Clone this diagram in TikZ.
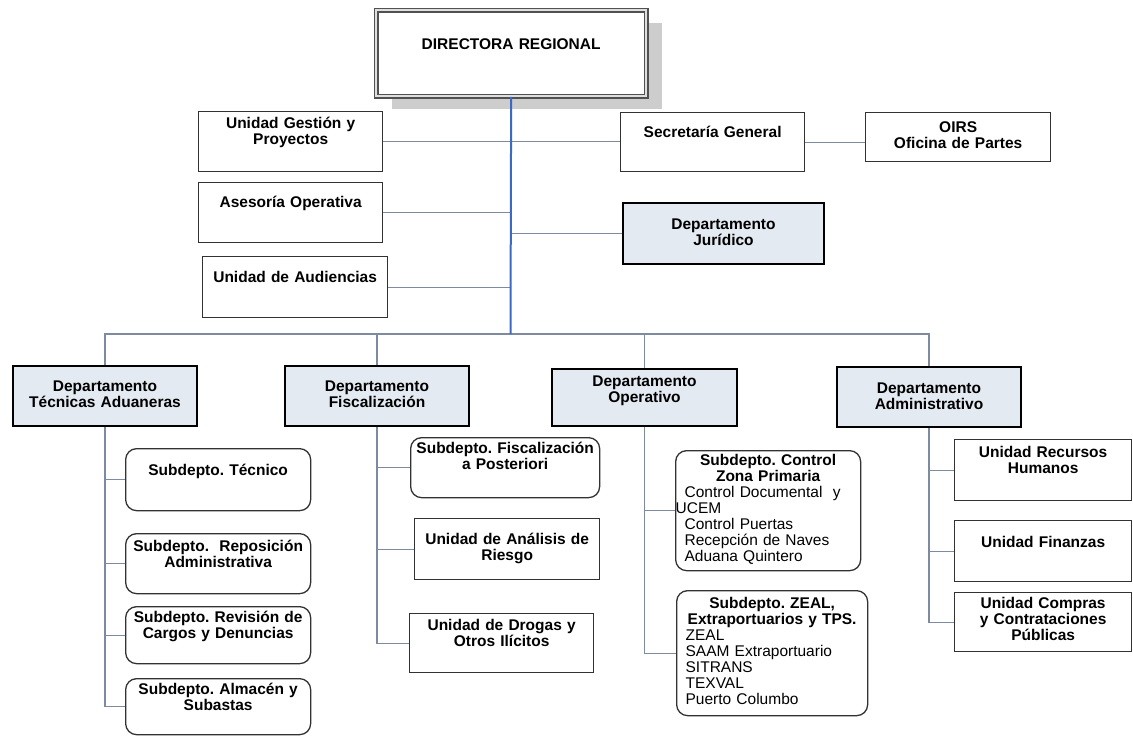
\documentclass[tikz,border=0pt]{standalone}
\usepackage{fontspec}
\setmainfont{Liberation Sans}
\usetikzlibrary{shadows}
\definecolor{boxc}{RGB}{50,50,50}
\definecolor{deptc}{RGB}{228,234,242}
\definecolor{connc}{RGB}{125,138,160}
\definecolor{bluec}{RGB}{62,105,195}
\definecolor{shadc}{RGB}{205,205,205}
\newcommand\fs{\fontsize{15.5}{16}\selectfont\bfseries\frenchspacing}
\newcommand\leftlist{\raggedright\parfillskip=0pt plus 1fil\relax\mdseries}
\newcommand\obox[8]{%
  \pgfmathsetmacro\bw{#5-#3}\pgfmathsetmacro\bth{#7-#4}\pgfmathsetmacro\btd{#6-#7}%
  \node[#1, text width=\bw pt, text height=\bth pt, text depth=\btd pt] (#2) at (#3,#4) {#8};}
\begin{document}
\begin{tikzpicture}[x=1pt,y=-1pt,
  bx/.style={draw=boxc, line width=1.3pt, fill=white, inner xsep=0pt, inner ysep=0pt,
    anchor=north west, align=center, font=\fs},
  dept/.style={bx, fill=deptc, draw=black, line width=2pt},
  rbx/.style={bx, rounded corners=11pt},
  dirbox/.style={bx, draw=boxc!85, double=gray!25, double distance=2.2pt, line width=1.3pt,
    general shadow={fill=shadc, shadow xshift=16pt, shadow yshift=-13pt}},
  conn/.style={draw=connc, line width=1.2pt},
  mainc/.style={draw=bluec, line width=2pt}]
\fill[white] (0,0) rectangle (1133,736);
\useasboundingbox (0,0) rectangle (1133,736);

% top level
\obox{dirbox}{dir}{375.5}{9.5}{645.5}{95.5}{49}{DIRECTORA REGIONAL}
\obox{bx}{ugp}{198}{111}{382}{171}{128}{Unidad Gestión y\\Proyectos}
\obox{bx}{ase}{198}{182}{382}{242}{207}{Asesoría Operativa}
\obox{bx}{aud}{202}{256}{387}{317}{282}{Unidad de Audiencias}
\obox{bx}{sec}{620}{112}{804}{171}{137}{Secretaría General}
\obox{bx}{oirs}{865}{112}{1050}{161}{132}{OIRS\\Oficina de Partes}
\obox{dept}{jur}{622}{202}{823}{263}{228}{Departamento\\Jurídico}

% departments
\obox{dept}{tec}{12}{365}{196}{425}{390}{Departamento\\Técnicas Aduaneras}
\obox{dept}{fis}{284}{365}{468}{425}{390}{Departamento\\Fiscalización}
\obox{dept}{opr}{551}{368}{736}{425}{385}{Departamento\\Operativo}
\obox{dept}{adm}{836}{366}{1020}{426}{392}{Departamento\\Administrativo}

% column 1
\obox{rbx}{s1}{125}{448}{310}{510}{475}{Subdepto. Técnico}
\obox{rbx}{s2}{125}{533}{310}{593}{551}{Subdepto.\ \ Reposición\\Administrativa}
\obox{rbx}{s3}{125}{606}{310}{663}{622}{Subdepto. Revisión de\\Cargos y Denuncias}
\obox{rbx}{s4}{125}{678}{310}{734}{694}{Subdepto. Almacén y\\Subastas}
% column 2
\obox{rbx}{f1}{410}{437}{599}{497}{453}{Subdepto. Fiscalización\\a Posteriori}
\obox{bx}{f2}{414}{518}{599}{579}{544}{Unidad de Análisis de\\Riesgo}
\obox{bx}{f3}{409}{613}{593}{672}{630}{Unidad de Drogas y\\Otros Ilícitos}
% column 3
\node[rbx, inner xsep=9pt, text width=167pt, text height=15pt, text depth=105pt] (z1) at (675,450)
  {{Subdepto. Control\\Zona Primaria\par}\leftlist Control Documental\ \ y\\\hspace*{-9pt}UCEM\\Control Puertas\\Recepción de Naves\\Aduana Quintero\par};
\node[rbx, inner xsep=9pt, text width=173pt, text height=18pt, text depth=107pt] (z2) at (676,590)
  {{Subdepto. ZEAL,\\Extraportuarios y TPS.\par}\leftlist ZEAL\\SAAM Extraportuario\\SITRANS\\TEXVAL\\Puerto Columbo\par};
% column 4
\obox{bx}{a1}{954}{439}{1131}{500}{457}{Unidad Recursos\\Humanos}
\obox{bx}{a2}{954}{520}{1131}{581}{547}{Unidad Finanzas}
\obox{bx}{a3}{954}{592}{1131}{651}{608}{Unidad Compras\\y Contrataciones\\Públicas}

\coordinate (jn) at (510.5,334);

% connectors
\draw[conn] (ugp.east) -- (ugp.east -| sec.west);
\draw[conn] (sec.east) -- (sec.east -| oirs.west);
\draw[conn] (ase.east) -- (ase.east -| jn);
\draw[conn] (aud.east) -- (aud.east -| jn);
\draw[conn] (jur.west) -- (jur.west -| jn);
\draw[conn] (tec.north) |- (jn) -| (adm.north);
\draw[conn] (fis.north) -- (fis.north |- jn);
\draw[conn] (opr.north) -- (opr.north |- jn);
\foreach \s in {s1,s2,s3,s4} \draw[conn] (tec.south) |- (\s.west);
\foreach \s in {f1,f2,f3} \draw[conn] (fis.south) |- (\s.west);
\foreach \s in {z1,z2} \draw[conn] (opr.south) |- (\s.west);
\foreach \s in {a1,a2,a3} \draw[conn] (adm.south) |- (\s.west);
\draw[mainc] (dir.south) -- (jn);
\end{tikzpicture}
\end{document}
